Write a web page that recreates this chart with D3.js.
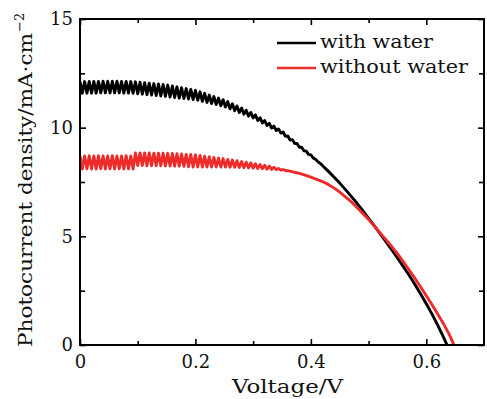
<!DOCTYPE html>
<html><head><meta charset="utf-8">
<script src="https://cdn.jsdelivr.net/npm/d3@7"></script>
<style>body{margin:0;background:#fff}svg{display:block}</style>
</head><body>
<svg id="c" width="487" height="399"></svg>
<script>
// ---- data ----
const seriesNames = ["with water", "without water"];
const xTicks = [0, 0.2, 0.4, 0.6];
const xTickLabels = ["0", "0.2", "0.4", "0.6"];
const yTicks = [0, 5, 10, 15];
const yTickLabels = ["0", "5", "10", "15"];

// "with water": noisy plateau (measured jitter), then smooth fall-off
const withWaterV = [
0,0.004,0.008,0.012,0.016,0.02,0.024,0.028,0.032,0.036,0.04,0.044,0.048,
0.052,0.056,0.06,0.064,0.068,0.072,0.076,0.08,0.084,0.088,0.092,0.096,
0.1,0.104,0.108,0.112,0.116,0.12,0.124,0.128,0.132,0.136,0.14,0.144,0.148,
0.152,0.156,0.16,0.164,0.168,0.172,0.176,0.18,0.184,0.188,0.192,0.196,
0.2,0.204,0.208,0.212,0.216,0.22,0.224,0.228,0.232,0.236,0.24,0.244,0.248,
0.252,0.256,0.26,0.264,0.268,0.272,0.276,0.28,0.284,0.288,0.292,0.296,
0.3,0.304,0.308,0.312,0.316,0.32,0.324,0.328,0.332,0.336,0.34,0.344,0.348,
0.352,0.356,0.36,0.364,0.368,0.372,0.376,0.38,0.384,0.388,0.392,0.396,
0.4,0.404,0.408,0.412,0.416,
0.42,0.43,0.44,0.45,0.46,0.47,0.48,0.49,0.5,0.51,0.52,0.53,0.54,0.55,0.56,0.57,0.58,0.59,0.6,0.61,0.62,0.63,0.636];
const withWaterJ = [
12.12,11.58,12.12,11.59,12.13,11.59,12.13,11.59,12.13,11.60,12.14,11.60,12.14,
11.60,12.14,11.60,12.14,11.60,12.13,11.59,12.13,11.59,12.12,11.58,12.11,
11.56,12.09,11.54,12.07,11.52,12.05,11.50,12.03,11.48,12.01,11.46,11.99,11.44,
11.96,11.41,11.92,11.39,11.88,11.36,11.84,11.34,11.80,11.32,11.76,11.29,
11.72,11.26,11.65,11.21,11.58,11.16,11.50,11.11,11.43,11.06,11.36,11.01,11.29,
10.95,11.20,10.87,11.10,10.78,11.00,10.70,10.90,10.62,10.80,10.53,10.70,
10.45,10.59,10.33,10.46,10.22,10.33,10.10,10.20,9.98,10.07,9.87,9.94,9.75,
9.80,9.60,9.62,9.43,9.45,9.27,9.27,9.10,9.10,8.94,8.92,8.77,
8.75,8.61,8.55,8.44,8.36,
8.26,8.00,7.73,7.45,7.15,6.84,6.52,6.18,5.83,5.48,5.12,4.76,4.39,4.01,3.62,3.22,2.80,2.36,1.90,1.42,0.90,0.35,0];

// "without water"
const withoutWaterV = [
0,0.004,0.008,0.012,0.016,0.02,0.024,0.028,0.032,0.036,0.04,0.044,0.048,
0.052,0.056,0.06,0.064,0.068,0.072,0.076,0.08,0.084,0.088,0.092,0.096,
0.1,0.104,0.108,0.112,0.116,0.12,0.124,0.128,0.132,0.136,0.14,0.144,0.148,
0.152,0.156,0.16,0.164,0.168,0.172,0.176,0.18,0.184,0.188,0.192,0.196,
0.2,0.204,0.208,0.212,0.216,0.22,0.224,0.228,0.232,0.236,0.24,0.244,0.248,
0.252,0.256,0.26,0.264,0.268,0.272,0.276,0.28,0.284,0.288,0.292,0.296,
0.3,0.304,0.308,0.312,0.316,0.32,0.324,0.328,0.332,0.336,0.34,0.344,0.348,
0.352,0.356,0.36,
0.37,0.38,0.39,0.4,0.41,0.42,0.43,0.44,0.45,0.46,0.47,0.48,0.49,0.5,0.51,0.52,0.53,0.54,0.55,0.56,0.57,0.58,0.59,0.6,0.61,0.62,0.63,0.64,0.648];
const withoutWaterJ = [
8.70,8.10,8.70,8.11,8.71,8.10,8.70,8.10,8.71,8.11,8.70,8.10,8.70,
8.11,8.71,8.10,8.70,8.11,8.70,8.10,8.71,8.11,8.70,8.10,8.84,
8.26,8.84,8.26,8.84,8.25,8.84,8.25,8.83,8.25,8.83,8.25,8.83,8.24,
8.82,8.24,8.81,8.23,8.80,8.23,8.79,8.22,8.77,8.20,8.77,8.19,
8.75,8.19,8.72,8.19,8.69,8.19,8.66,8.19,8.63,8.19,8.60,8.19,8.58,
8.19,8.54,8.18,8.51,8.18,8.48,8.17,8.44,8.16,8.41,8.15,8.38,
8.14,8.34,8.12,8.30,8.11,8.27,8.09,8.23,8.08,8.18,8.07,8.12,8.05,
8.07,8.03,8.02,
7.96,7.90,7.82,7.72,7.62,7.52,7.39,7.23,7.03,6.82,6.59,6.33,6.05,5.77,5.47,5.16,4.85,4.53,4.20,3.84,3.46,3.08,2.68,2.27,1.85,1.42,0.97,0.48,0];

const colors = ["#000000", "#ee2b2b"];

// ---- drawing ----
const svg = d3.select("#c");
const L = 80, R = 484, T = 19, B = 345;
const x = d3.scaleLinear().domain([0, 0.7]).range([L, R]);
const y = d3.scaleLinear().domain([0, 15]).range([B, T]);
const font = "'DejaVu Serif', serif";
const txt = "#111";

svg.append("clipPath").attr("id","pc").append("rect")
  .attr("x", L).attr("y", T).attr("width", R-L).attr("height", B-T);

const line = d3.line().x(d => x(d[0])).y(d => y(d[1]));
const series = [d3.zip(withWaterV, withWaterJ), d3.zip(withoutWaterV, withoutWaterJ)];
series.forEach((s, i) => {
  svg.append("path").datum(s).attr("d", line).attr("fill","none")
    .attr("stroke", colors[i]).attr("stroke-width", 2.9).attr("stroke-linejoin","round")
    .attr("clip-path","url(#pc)");
});

function styleAxis(g){
  g.select(".domain").remove();
  g.selectAll("line").attr("stroke","#000").attr("stroke-width",1.6);
  g.selectAll("text").attr("font-family", font).attr("font-size", 18).attr("fill", txt);
}
const xMinor = [0.1, 0.3, 0.5];
const yMinor = [2.5, 7.5, 12.5];
// bottom
svg.append("g").attr("transform",`translate(0,${B})`)
  .call(d3.axisBottom(x).tickValues(xTicks).tickSize(-6).tickPadding(10).tickFormat((d,i)=>xTickLabels[i]))
  .call(styleAxis);
svg.append("g").attr("transform",`translate(0,${B})`)
  .call(d3.axisBottom(x).tickValues(xMinor).tickSize(-4).tickFormat(""))
  .call(styleAxis);
// top
svg.append("g").attr("transform",`translate(0,${T})`)
  .call(d3.axisTop(x).tickValues(xTicks).tickSize(-6).tickFormat(""))
  .call(styleAxis);
svg.append("g").attr("transform",`translate(0,${T})`)
  .call(d3.axisTop(x).tickValues(xMinor).tickSize(-4).tickFormat(""))
  .call(styleAxis);
// left
svg.append("g").attr("transform",`translate(${L},0)`)
  .call(d3.axisLeft(y).tickValues(yTicks).tickSize(-6).tickPadding(7).tickFormat((d,i)=>yTickLabels[i]))
  .call(styleAxis);
svg.append("g").attr("transform",`translate(${L},0)`)
  .call(d3.axisLeft(y).tickValues(yMinor).tickSize(-5).tickFormat(""))
  .call(styleAxis);
// right
svg.append("g").attr("transform",`translate(${R},0)`)
  .call(d3.axisRight(y).tickValues(yTicks).tickSize(-6).tickFormat(""))
  .call(styleAxis);
svg.append("g").attr("transform",`translate(${R},0)`)
  .call(d3.axisRight(y).tickValues(yMinor).tickSize(-5).tickFormat(""))
  .call(styleAxis);

// frame
svg.append("rect").attr("x",L).attr("y",T).attr("width",R-L).attr("height",B-T)
  .attr("fill","none").attr("stroke","#000").attr("stroke-width",2);

// axis titles
svg.append("text").attr("x", 232).attr("y", 393)
  .attr("font-family", font).attr("font-size", 18).attr("fill", txt)
  .attr("textLength", 111).attr("lengthAdjust","spacingAndGlyphs").text("Voltage/V");
const yt = svg.append("text").attr("transform","translate(32,347) rotate(-90)")
  .attr("font-family", font).attr("font-size", 18).attr("fill", txt);
yt.append("tspan").attr("textLength", 314).attr("lengthAdjust","spacingAndGlyphs")
  .text("Photocurrent density/mA·cm");
yt.append("tspan").attr("dy",-8).attr("dx",1).attr("font-size",13).text("−2");

// legend
const legY = [43, 68];
const legLen = [113, 148];
seriesNames.forEach((n,i)=>{
  svg.append("line").attr("x1",277).attr("x2",316).attr("y1",legY[i]).attr("y2",legY[i])
    .attr("stroke",colors[i]).attr("stroke-width",2.4);
  svg.append("text").attr("x",320).attr("y",legY[i]+5).attr("font-family",font).attr("font-size",18)
    .attr("fill",txt).attr("textLength", legLen[i]).attr("lengthAdjust","spacingAndGlyphs").text(n);
});
</script>
</body></html>
